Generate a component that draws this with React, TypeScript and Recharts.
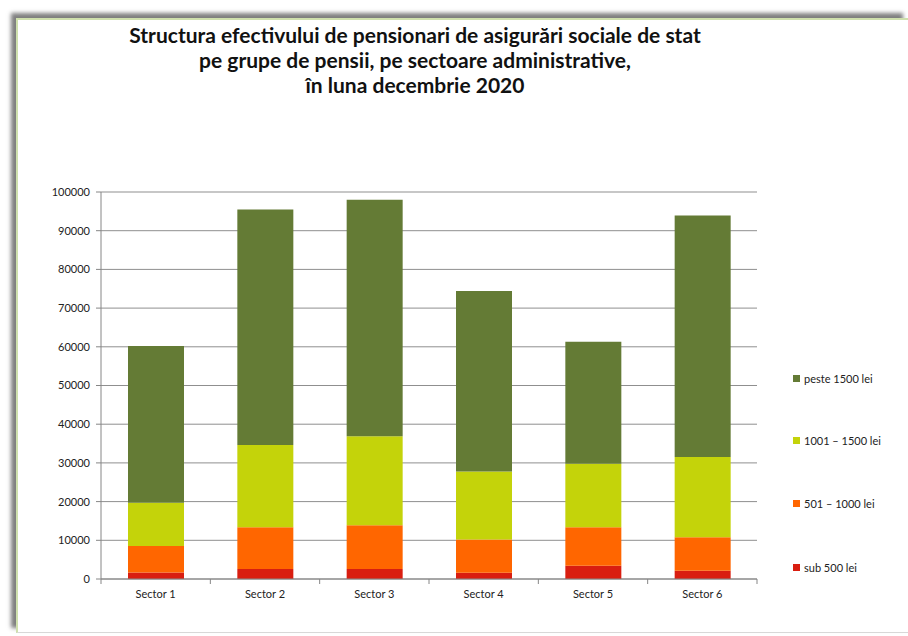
import { BarChart, Bar, XAxis, YAxis, CartesianGrid } from "recharts";

// values (segment sizes, bottom to top)
const categories = ["Sector 1", "Sector 2", "Sector 3", "Sector 4", "Sector 5", "Sector 6"];
const sub500 = [1700, 2600, 2600, 1600, 3400, 2100];
const from501 = [6800, 10800, 11300, 8600, 10000, 8700];
const from1001 = [11200, 21200, 23000, 17600, 16400, 20700];
const over1500 = [40500, 60900, 61100, 46600, 31500, 62400];

const seriesKeys = ["sub500", "from501", "from1001", "over1500"];
const seriesNames = ["sub 500 lei", "501 – 1000 lei", "1001 – 1500 lei", "peste 1500 lei"];
const seriesColors = ["#d91e10", "#ff6600", "#c4d30a", "#647b35"];

const yTicks = [0, 10000, 20000, 30000, 40000, 50000, 60000, 70000, 80000, 90000, 100000];

const titleLines = [
	"Structura efectivului de pensionari de asigurări sociale de stat",
	"pe grupe de pensii, pe sectoare administrative,",
	"în luna decembrie 2020",
];

const data = categories.map((name, i) => ({
	name,
	sub500: sub500[i],
	from501: from501[i],
	from1001: from1001[i],
	over1500: over1500[i],
}));

const FONT = "Lato, 'Open Sans', sans-serif";

const SectorTick = (props: any) => {
	const { x, y, payload, index } = props;
	const half = payload.offset || 0;
	const last = index === categories.length - 1;
	return (
		<g>
			<line x1={x - half} x2={x - half} y1={y - 12} y2={y - 7} stroke="#868686" />
			{last && <line x1={x + half} x2={x + half} y1={y - 12} y2={y - 7} stroke="#868686" />}
			<text x={x} y={y + 7} textAnchor="middle" fontSize={11} fill="#222" fontFamily={FONT}>
				{payload.value}
			</text>
		</g>
	);
};

const App = () => {
	return (
		<div
			style={{
				position: "absolute",
				left: 0,
				top: 0,
				width: 908,
				height: 636,
				overflow: "hidden",
				background: "#fff",
				fontFamily: FONT,
			}}
		>
			<div
				style={{
					position: "absolute",
					left: 16,
					top: 18,
					width: 890,
					height: 612,
					borderTop: "2px solid #cfe0ad",
					borderLeft: "2px solid #cfe0ad",
					borderBottom: "1px solid #d8d8d8",
					boxShadow: "-5px -5px 4px rgba(0,0,0,0.5)",
					background: "#fff",
				}}
			/>
			<div
				style={{
					position: "absolute",
					left: 15,
					width: 800,
					top: 22,
					textAlign: "center",
					fontWeight: 700,
					fontSize: 21,
					lineHeight: "25px",
					color: "#111",
					whiteSpace: "nowrap",
				}}
			>
				{titleLines.map((t) => (
					<div key={t}>{t}</div>
				))}
			</div>
			<div style={{ position: "absolute", left: 0, top: 0 }}>
				<BarChart
					width={908}
					height={636}
					data={data}
					margin={{ top: 192, right: 151, bottom: 27, left: 0 }}
					style={{ fontFamily: FONT }}
				>
					<CartesianGrid vertical={false} stroke="#8f8f8f" />
					<XAxis
						dataKey="name"
						interval={0}
						tickLine={false}
						tickSize={5}
						tickMargin={7}
						stroke="#868686"
						tick={<SectorTick />}
					/>
					<YAxis
						width={101}
						domain={[0, 100000]}
						ticks={yTicks}
						interval={0}
						tickSize={5}
						tickMargin={6}
						stroke="#868686"
						tick={{ fontSize: 11, fill: "#222" }}
					/>
					{seriesKeys.map((k, i) => (
						<Bar
							key={k}
							dataKey={k}
							name={seriesNames[i]}
							stackId="a"
							fill={seriesColors[i]}
							barSize={56}
							isAnimationActive={false}
						/>
					))}
				</BarChart>
			</div>
			{seriesNames
				.map((n, i) => ({ n, c: seriesColors[i] }))
				.reverse()
				.map((item, j) => (
					<div
						key={item.n}
						style={{
							position: "absolute",
							left: 793,
							top: [378, 440, 503, 567][j] - 7,
							height: 14,
							display: "flex",
							alignItems: "center",
							fontSize: 11,
							color: "#222",
							whiteSpace: "nowrap",
						}}
					>
						<span style={{ width: 7, height: 7, background: item.c, marginRight: 4 }} />
						{item.n}
					</div>
				))}
		</div>
	);
};

export default App;
